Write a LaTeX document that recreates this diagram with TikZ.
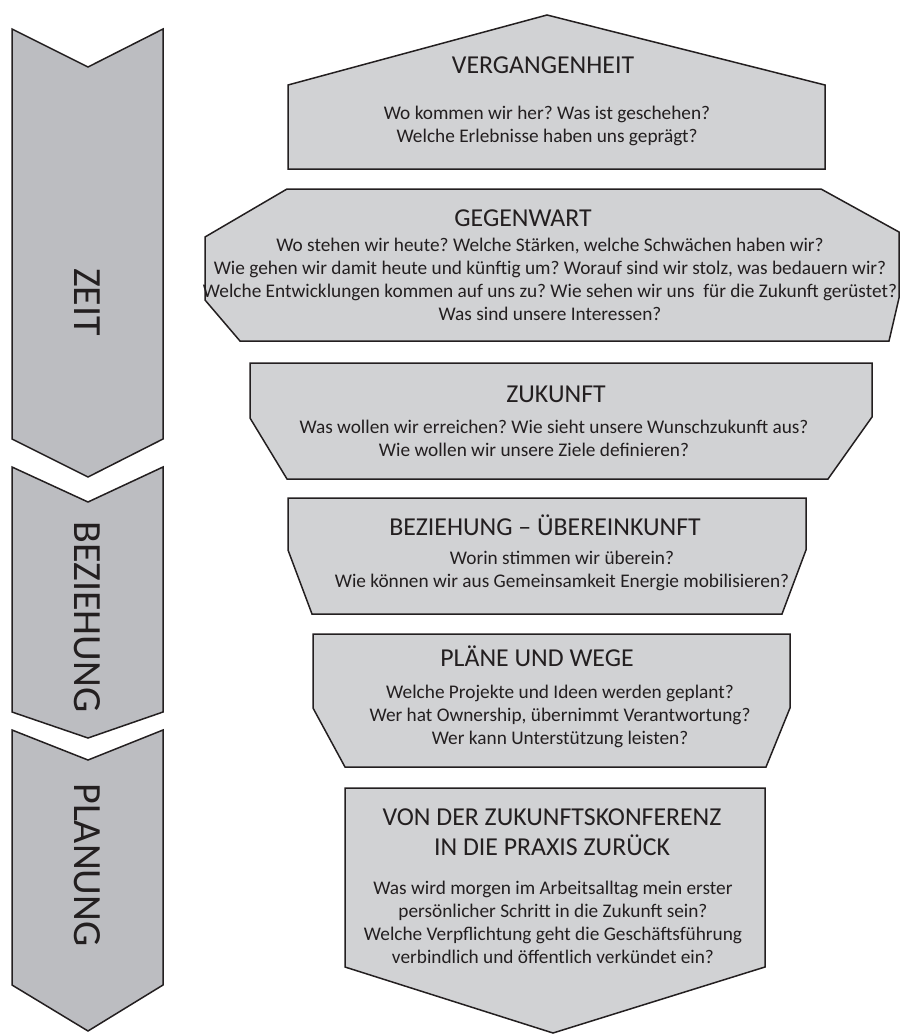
\documentclass[tikz,border=0pt]{standalone}
\usepackage{fontspec}
\setmainfont{Carlito}
\frenchspacing
\definecolor{ink}{RGB}{35,31,32}
\definecolor{panelgray}{RGB}{209,210,212}
\definecolor{arrowgray}{RGB}{188,189,193}

\begin{document}
\begin{tikzpicture}[x=1pt,y=-1pt,
		panel/.style = {draw=ink,fill=panelgray,line width=1.5pt},
		chevron/.style = {draw=ink,fill=arrowgray,line width=1.5pt},
		headtext/.style = {anchor=base,inner sep=0pt,text=ink,align=center,font=\fontsize{25.8}{30}\selectfont},
		asktext/.style = {anchor=base,inner sep=0pt,text=ink,align=center,font=\fontsize{19.3}{23}\selectfont},
		phasetext/.style = {rotate=-90,inner sep=0pt,text=ink,font=\fontsize{40}{40}\selectfont}]
		\useasboundingbox (0,0) rectangle (901,1034);
		% phases on the left
		\draw [chevron] (12,29) -- (88,67) -- (163,29) -- (163,439) -- (88,477) -- (12,439) -- cycle;
		\draw [chevron] (12,467) -- (88,502) -- (163,467) -- (163,712) -- (88,738) -- (12,712) -- cycle;
		\draw [chevron] (12,730) -- (88,760) -- (163,730) -- (163,985) -- (88,1031) -- (12,985) -- cycle;
		\node [phasetext] (zeit) at (87,302) {ZEIT};
		\node [phasetext] (beziehung) at (87,617) {BEZIEHUNG};
		\node [phasetext] (planung) at (87,865) {PLANUNG};
		% steps on the right (base = last line)
		\draw [panel] (547,15) -- (825,85) -- (825,169) -- (288,169) -- (288,85) -- cycle;
		\draw [panel] (287,189) -- (821,189) -- (899,232) -- (899,298) -- (889,341) -- (240,341) -- (205,300) -- (205,237) -- cycle;
		\draw [panel] (250,363) -- (872,363) -- (872,417) -- (828,479) -- (287,479) -- (250,418) -- cycle;
		\draw [panel] (288,498) -- (806,498) -- (806,550) -- (782,614) -- (312,614) -- (288,550) -- cycle;
		\draw [panel] (313,634) -- (790,634) -- (790,708) -- (766,767) -- (345,767) -- (313,708) -- cycle;
		\draw [panel] (345,788) -- (765,788) -- (765,967) -- (553,1033) -- (345,967) -- cycle;
		\node [headtext] (vergangenheit) at (543,73) {VERGANGENHEIT};
		\node [asktext] (vergangenheit-q) at (547,142) {Wo kommen wir her? Was ist geschehen?\\Welche Erlebnisse haben uns geprägt?};
		\node [headtext] (gegenwart) at (523,226) {GEGENWART};
		\node [asktext] (gegenwart-q) at (550,320) {Wo stehen wir heute? Welche Stärken, welche Schwächen haben wir?\\
			Wie gehen wir damit heute und künftig um? Worauf sind wir stolz, was bedauern wir?\\
			Welche Entwicklungen kommen auf uns zu? Wie sehen wir uns \ für die Zukunft gerüstet?\\
			Was sind unsere Interessen?};
		\node [headtext] (zukunft) at (556,402) {ZUKUNFT};
		\node [asktext] (zukunft-q) at (554,456) {Was wollen wir erreichen? Wie sieht unsere Wunschzukunft aus?\\
			Wie wollen wir unsere Ziele definieren?\hspace*{40pt}};
		\node [headtext] (uebereinkunft) at (545,535) {BEZIEHUNG – ÜBEREINKUNFT};
		\node [asktext] (uebereinkunft-q) at (562,587) {Worin stimmen wir überein?\\Wie können wir aus Gemeinsamkeit Energie mobilisieren?};
		\node [headtext] (plaene) at (537,666) {PLÄNE UND WEGE};
		\node [asktext] (plaene-q) at (560,744) {Welche Projekte und Ideen werden geplant?\\
			Wer hat Ownership, übernimmt Verantwortung?\\Wer kann Unterstützung leisten?};
		\node [headtext] (praxis) at (552,855) {VON DER ZUKUNFTSKONFERENZ\\IN DIE PRAXIS ZURÜCK};
		\node [asktext] (praxis-q) at (553,963) {Was wird morgen im Arbeitsalltag mein erster\\
			persönlicher Schritt in die Zukunft sein?\\Welche Verpflichtung geht die Geschäftsführung\\
			verbindlich und öffentlich verkündet ein?};
\end{tikzpicture}
\end{document}
